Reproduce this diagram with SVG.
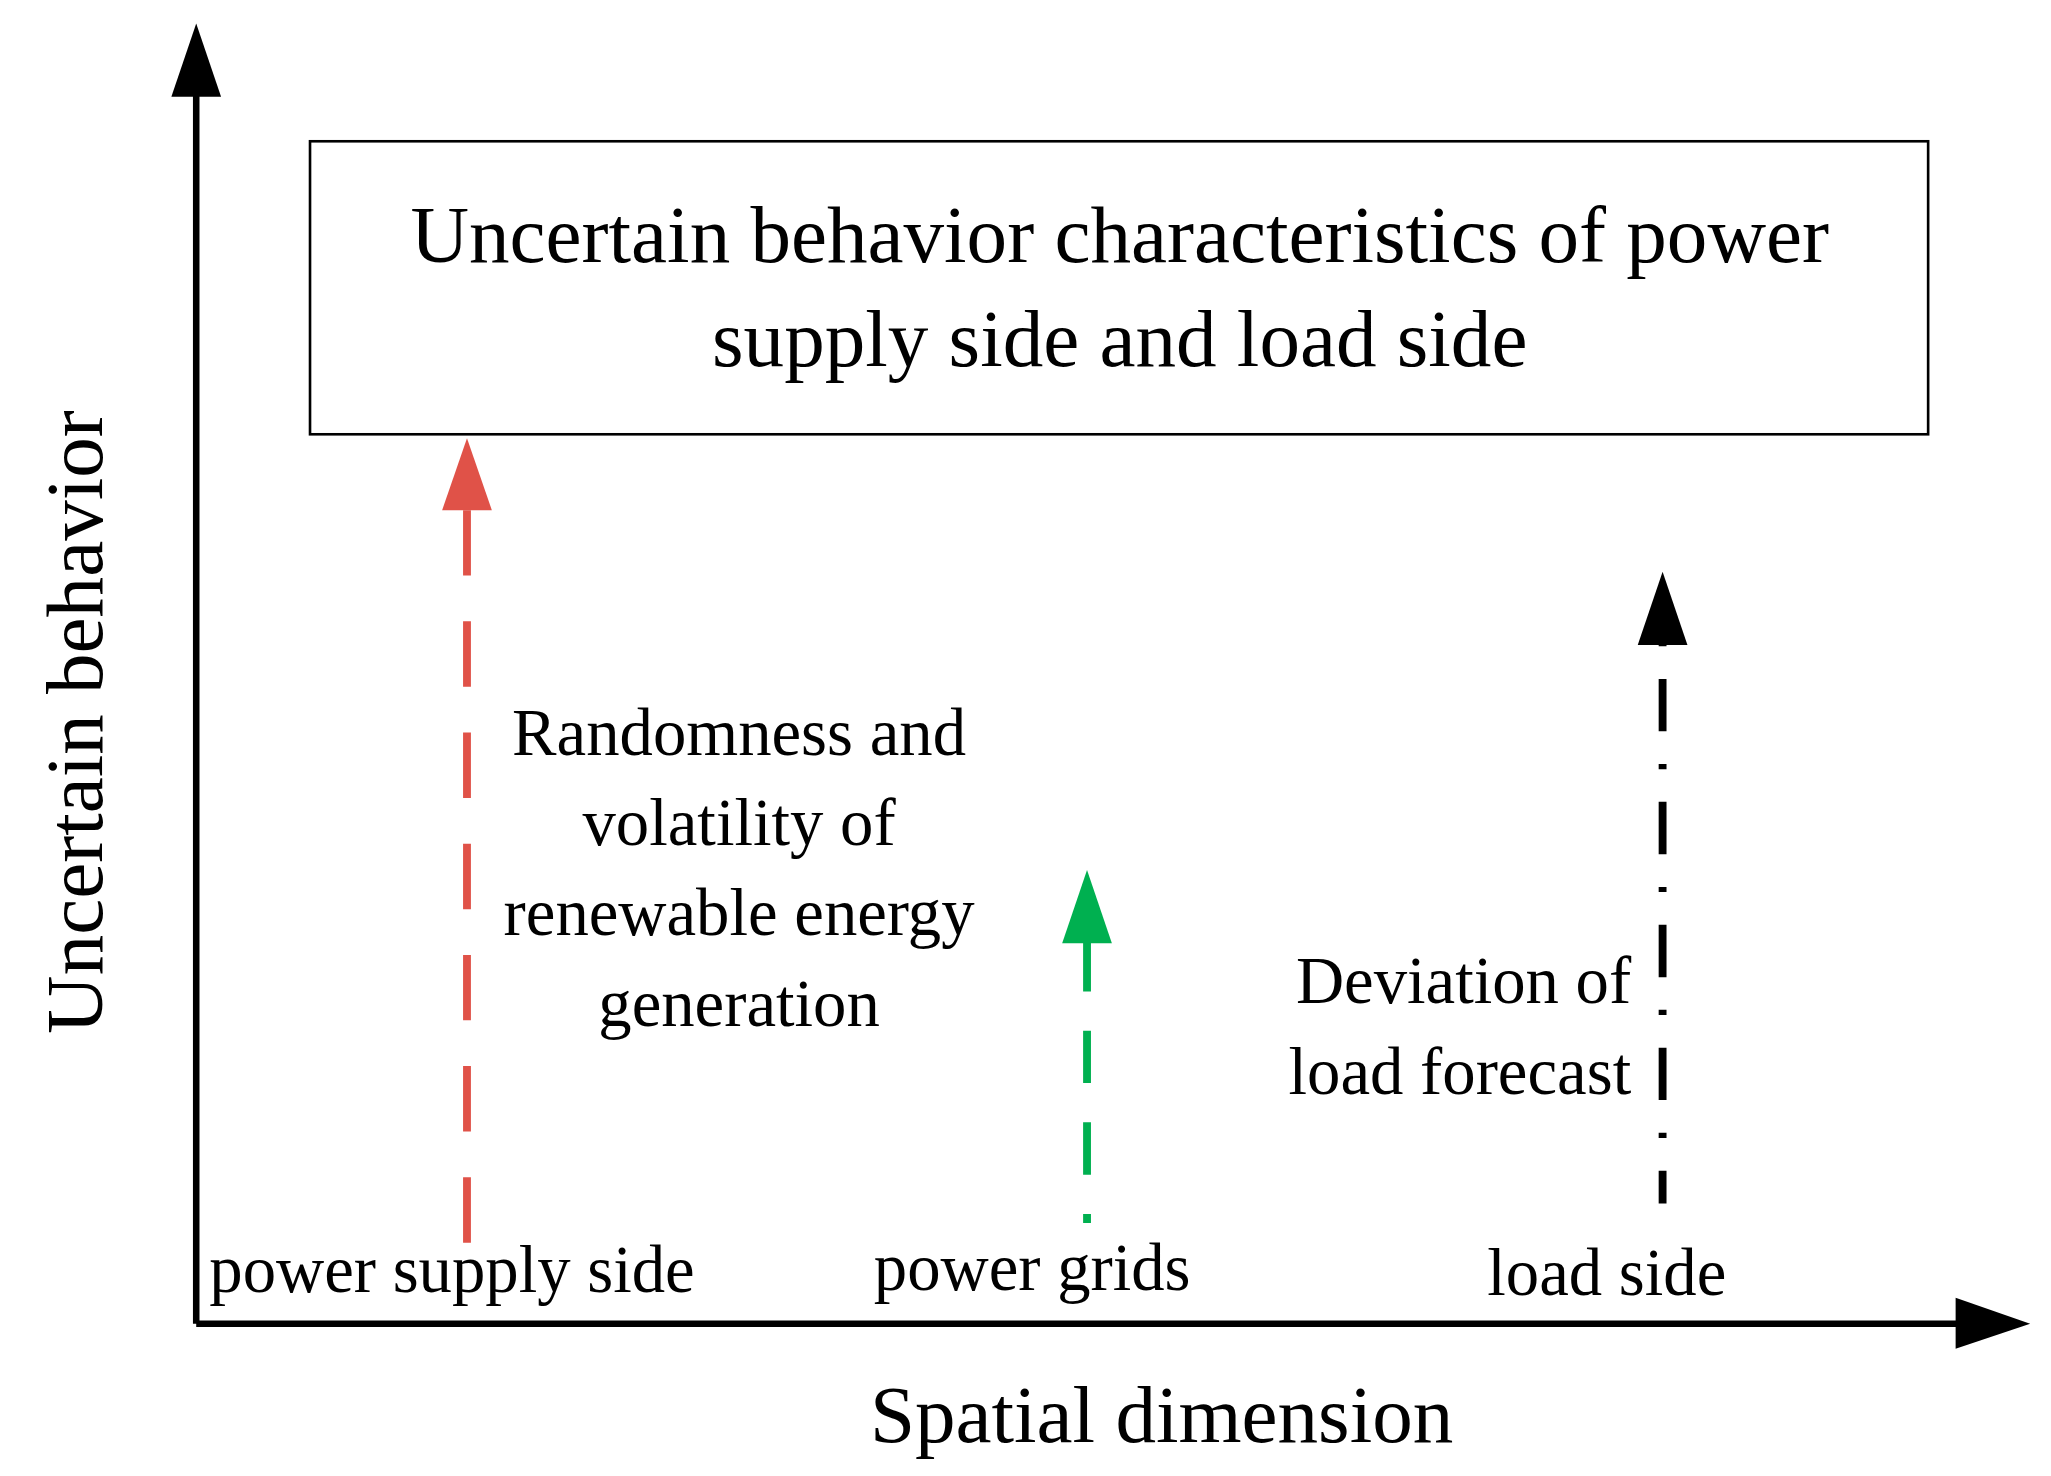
<svg xmlns="http://www.w3.org/2000/svg" width="2051" height="1476" viewBox="0 0 2051 1476">
<style>
text{font-family:"Liberation Serif","Times New Roman",serif;fill:#000}
.big{font-size:62px}
.mid{font-size:51px}
.ax{stroke:#000;stroke-width:5;fill:none}
</style>
<rect width="2051" height="1476" fill="#fff"/>
<g transform="scale(1.3081)">
<g id="axes">
<path class="ax" d="M150 1012 V70 M150 1012 H1500"/>
<polygon points="150,18 131,74 169,74"/>
<polygon points="1552,1012 1495,992 1495,1031"/>
</g>
<g id="box">
<rect x="237" y="108" width="1237" height="224" fill="#fff" stroke="#000" stroke-width="2"/>
<text class="big" x="856" y="200" text-anchor="middle">Uncertain behavior characteristics of power</text>
<text class="big" x="856" y="280" text-anchor="middle">supply side and load side</text>
</g>
<g id="connectors">
<path d="M357 950 V390" stroke="#e05248" stroke-width="6" stroke-dasharray="50 35" fill="none"/>
<polygon points="357,335 338,390 376,390" fill="#e05248"/>
<path d="M831 935 V718" stroke="#00b050" stroke-width="6" stroke-dasharray="40 30" fill="none" transform="rotate(180 831 826.5)"/>
<polygon points="831,665 812,721 850,721" fill="#00b050"/>
<path d="M1271 920 V490" stroke="#000" stroke-width="6" stroke-dasharray="4 25 40 25" fill="none" transform="rotate(180 1271 705)"/>
<polygon points="1271,437 1252,493 1290,493"/>
</g>
<g id="labels">
<text class="mid" x="565" y="577" text-anchor="middle">Randomness and</text>
<text class="mid" x="565" y="646" text-anchor="middle">volatility of</text>
<text class="mid" x="565" y="715" text-anchor="middle">renewable energy</text>
<text class="mid" x="565" y="784" text-anchor="middle">generation</text>
<text class="mid" x="1247" y="767" text-anchor="end">Deviation of</text>
<text class="mid" x="1247" y="836" text-anchor="end">load forecast</text>
<text class="mid" x="160" y="988">power supply side</text>
<text class="mid" x="668" y="986">power grids</text>
<text class="mid" x="1137" y="990">load side</text>
<text class="big" x="888" y="1102" text-anchor="middle">Spatial dimension</text>
<text class="big" transform="translate(78 552) rotate(-90)" text-anchor="middle">Uncertain behavior</text>
</g>
</g>
</svg>
